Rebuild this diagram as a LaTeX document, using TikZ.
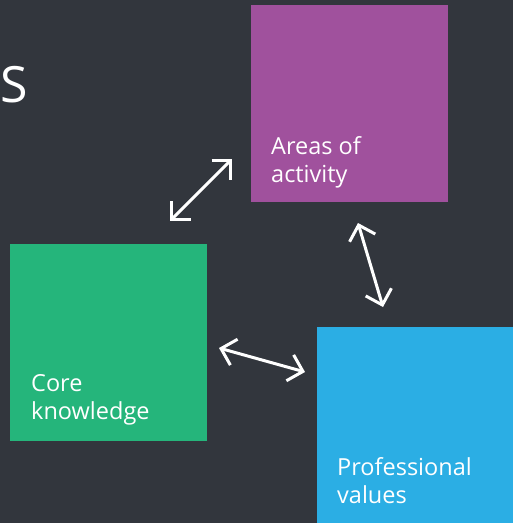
\documentclass[tikz,border=0pt]{standalone}
\usepackage{fontspec}
\setmainfont{Open Sans}
\usetikzlibrary{arrows.meta}
\definecolor{bg}{HTML}{32363D}
\definecolor{purp}{HTML}{A0519D}
\definecolor{grn}{HTML}{25B57B}
\definecolor{blu}{HTML}{2BAEE4}
\begin{document}
\begin{tikzpicture}[x=1pt,y=-1pt,
  box/.style={minimum size=197pt, inner sep=0pt, outer sep=0pt, anchor=north west, draw=none},
  lbl/.style={anchor=base west, align=left, text=white, font=\fontsize{23.5}{27.7}\selectfont, inner sep=0pt},
  dbl/.style={white, line width=3pt, {Straight Barb[angle=90:19pt]}-{Straight Barb[angle=90:19pt]}}]
\fill[bg] (0,0) rectangle (513,523);
\useasboundingbox (0,0) rectangle (513,523);
\node[anchor=base west, inner sep=0pt, text=white, font=\fontsize{50}{60}\selectfont] (ttl) at (0,102) {S};
\node[box, fill=purp] (act) at (251,5) {};
\node[box, fill=grn] (core) at (10,244) {};
\node[box, fill=blu] (prof) at (317,327) {};
\node[lbl] (actl) at (271,182) {Areas of\\activity};
\node[lbl] (corel) at (31,419) {Core\\knowledge};
\node[lbl] (profl) at (337,503) {Professional\\values};
\coordinate (a1s) at (170,221);
\coordinate (a1e) at (232,159);
\coordinate (a2s) at (358,223);
\coordinate (a2e) at (383,307);
\coordinate (a3s) at (219,348);
\coordinate (a3e) at (305,372);
\draw[dbl] (a1s) -- (a1e);
\draw[dbl] (a2s) -- (a2e);
\draw[dbl] (a3s) -- (a3e);
\end{tikzpicture}
\end{document}
